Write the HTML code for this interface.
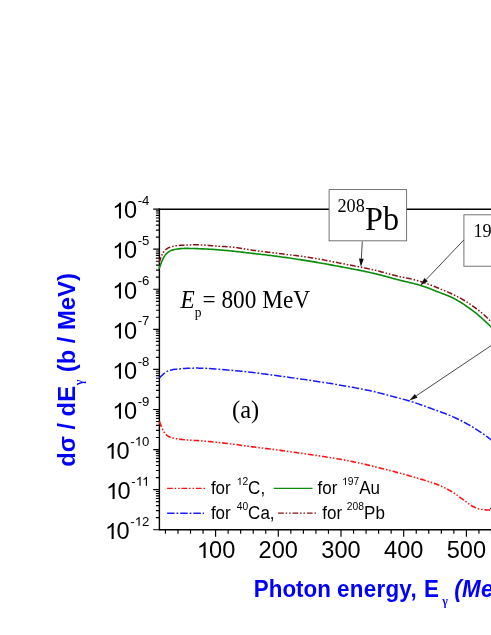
<!DOCTYPE html>
<html><head><meta charset="utf-8"><title>chart</title>
<style>
html,body{margin:0;padding:0;background:#fff;}
body{width:491px;height:635px;overflow:hidden;}
svg{display:block;will-change:transform;}
text{font-family:"Liberation Sans",sans-serif;fill:#000;}
.tk{font-size:23.6px;}
.sup{font-size:13.2px;}
.ttl{font-size:22.4px;font-weight:bold;fill:#0000ff;}
.ttly{font-size:23.8px;font-weight:bold;fill:#0000ff;}
.tsub{font-size:12px;font-family:"Liberation Serif",serif;}
.an{font-family:"Liberation Serif",serif;font-size:23.3px;}
.an2{font-family:"Liberation Serif",serif;font-size:24.5px;}
.ansub{font-size:13.5px;}
.bx{font-family:"Liberation Serif",serif;font-size:32.2px;}
.bxsup{font-size:18.2px;}
.lg{font-size:17px;}
.lgsup{font-size:10.3px;}
</style></head><body>
<svg width="491" height="635" viewBox="0 0 491 635">
<rect width="491" height="635" fill="#fff"/>
<path d="M159.4,208.5 V529.7 H495" fill="none" stroke="#000" stroke-width="1.4"/>
<path d="M158.70000000000002,209.2 H495" fill="none" stroke="#000" stroke-width="1.4"/>
<path d="M153.20000000000002,209.10 H159.4 M155.9,237.11 H159.4 M155.9,230.05 H159.4 M155.9,225.05 H159.4 M155.9,221.16 H159.4 M155.9,217.99 H159.4 M155.9,215.31 H159.4 M155.9,212.98 H159.4 M155.9,210.93 H159.4 M153.20000000000002,249.18 H159.4 M155.9,277.19 H159.4 M155.9,270.13 H159.4 M155.9,265.12 H159.4 M155.9,261.24 H159.4 M155.9,258.07 H159.4 M155.9,255.38 H159.4 M155.9,253.06 H159.4 M155.9,251.01 H159.4 M153.20000000000002,289.25 H159.4 M155.9,317.26 H159.4 M155.9,310.20 H159.4 M155.9,305.20 H159.4 M155.9,301.31 H159.4 M155.9,298.14 H159.4 M155.9,295.46 H159.4 M155.9,293.13 H159.4 M155.9,291.08 H159.4 M153.20000000000002,329.32 H159.4 M155.9,357.34 H159.4 M155.9,350.28 H159.4 M155.9,345.27 H159.4 M155.9,341.39 H159.4 M155.9,338.22 H159.4 M155.9,335.53 H159.4 M155.9,333.21 H159.4 M155.9,331.16 H159.4 M153.20000000000002,369.40 H159.4 M155.9,397.41 H159.4 M155.9,390.35 H159.4 M155.9,385.35 H159.4 M155.9,381.46 H159.4 M155.9,378.29 H159.4 M155.9,375.61 H159.4 M155.9,373.28 H159.4 M155.9,371.23 H159.4 M153.20000000000002,409.48 H159.4 M155.9,437.49 H159.4 M155.9,430.43 H159.4 M155.9,425.42 H159.4 M155.9,421.54 H159.4 M155.9,418.37 H159.4 M155.9,415.68 H159.4 M155.9,413.36 H159.4 M155.9,411.31 H159.4 M153.20000000000002,449.55 H159.4 M155.9,477.56 H159.4 M155.9,470.50 H159.4 M155.9,465.50 H159.4 M155.9,461.61 H159.4 M155.9,458.44 H159.4 M155.9,455.76 H159.4 M155.9,453.43 H159.4 M155.9,451.38 H159.4 M153.20000000000002,489.62 H159.4 M155.9,517.64 H159.4 M155.9,510.58 H159.4 M155.9,505.57 H159.4 M155.9,501.69 H159.4 M155.9,498.52 H159.4 M155.9,495.83 H159.4 M155.9,493.51 H159.4 M155.9,491.46 H159.4 M153.20000000000002,529.70 H159.4" fill="none" stroke="#000" stroke-width="1.15"/>
<path d="M165.44,529.7 v4 M177.98,529.7 v4 M190.52,529.7 v4 M203.06,529.7 v4 M215.60,529.7 v7 M228.14,529.7 v4 M240.68,529.7 v4 M253.22,529.7 v4 M265.76,529.7 v4 M278.30,529.7 v7 M290.84,529.7 v4 M303.38,529.7 v4 M315.92,529.7 v4 M328.46,529.7 v4 M341.00,529.7 v7 M353.54,529.7 v4 M366.08,529.7 v4 M378.62,529.7 v4 M391.16,529.7 v4 M403.70,529.7 v7 M416.24,529.7 v4 M428.78,529.7 v4 M441.32,529.7 v4 M453.86,529.7 v4 M466.40,529.7 v7 M478.94,529.7 v4 M491.48,529.7 v4" fill="none" stroke="#000" stroke-width="1.15"/>
<path d="M159.10,268.80 L160.63,264.45 L162.17,260.57 L163.70,257.54 L165.24,255.10 L166.77,253.27 L168.30,252.10 L169.84,251.14 L171.37,250.40 L172.90,249.89 L174.44,249.58 L175.97,249.30 L177.51,249.05 L179.04,248.84 L180.57,248.66 L182.11,248.53 L183.64,248.44 L185.17,248.40 L186.71,248.40 L188.24,248.42 L189.78,248.44 L191.31,248.47 L192.84,248.51 L194.38,248.55 L195.91,248.60 L197.44,248.65 L198.98,248.71 L200.51,248.77 L202.05,248.84 L203.58,248.90 L205.11,248.97 L206.65,249.03 L208.18,249.11 L209.72,249.19 L211.25,249.29 L212.78,249.39 L214.32,249.50 L215.85,249.61 L217.38,249.74 L218.92,249.86 L220.45,249.99 L221.99,250.12 L223.52,250.26 L225.05,250.39 L226.59,250.53 L228.12,250.66 L229.65,250.81 L231.19,250.96 L232.72,251.12 L234.26,251.29 L235.79,251.45 L237.32,251.63 L238.86,251.80 L240.39,251.98 L241.92,252.16 L243.46,252.34 L244.99,252.52 L246.53,252.70 L248.06,252.88 L249.59,253.05 L251.13,253.23 L252.66,253.41 L254.19,253.58 L255.73,253.76 L257.26,253.93 L258.80,254.11 L260.33,254.29 L261.86,254.47 L263.40,254.65 L264.93,254.83 L266.47,255.01 L268.00,255.20 L269.53,255.39 L271.07,255.57 L272.60,255.77 L274.13,255.96 L275.67,256.15 L277.20,256.35 L278.74,256.55 L280.27,256.76 L281.80,256.96 L283.34,257.17 L284.87,257.38 L286.40,257.60 L287.94,257.82 L289.47,258.04 L291.01,258.26 L292.54,258.49 L294.07,258.72 L295.61,258.95 L297.14,259.18 L298.67,259.42 L300.21,259.66 L301.74,259.90 L303.28,260.14 L304.81,260.38 L306.34,260.63 L307.88,260.87 L309.41,261.12 L310.95,261.37 L312.48,261.63 L314.01,261.88 L315.55,262.14 L317.08,262.40 L318.61,262.67 L320.15,262.94 L321.68,263.21 L323.22,263.48 L324.75,263.76 L326.28,264.03 L327.82,264.31 L329.35,264.59 L330.88,264.87 L332.42,265.16 L333.95,265.44 L335.49,265.73 L337.02,266.02 L338.55,266.31 L340.09,266.59 L341.62,266.89 L343.15,267.18 L344.69,267.46 L346.22,267.75 L347.76,268.04 L349.29,268.33 L350.82,268.62 L352.36,268.92 L353.89,269.21 L355.43,269.51 L356.96,269.81 L358.49,270.11 L360.03,270.41 L361.56,270.72 L363.09,271.04 L364.63,271.35 L366.16,271.68 L367.70,272.00 L369.23,272.34 L370.76,272.68 L372.30,273.02 L373.83,273.38 L375.36,273.74 L376.90,274.12 L378.43,274.51 L379.97,274.90 L381.50,275.30 L383.03,275.71 L384.57,276.12 L386.10,276.54 L387.63,276.95 L389.17,277.37 L390.70,277.79 L392.24,278.21 L393.77,278.62 L395.30,279.03 L396.84,279.44 L398.37,279.84 L399.91,280.23 L401.44,280.61 L402.97,280.99 L404.51,281.35 L406.04,281.72 L407.57,282.08 L409.11,282.44 L410.64,282.81 L412.18,283.18 L413.71,283.56 L415.24,283.95 L416.78,284.35 L418.31,284.77 L419.84,285.21 L421.38,285.66 L422.91,286.15 L424.45,286.66 L425.98,287.20 L427.51,287.76 L429.05,288.34 L430.58,288.94 L432.11,289.55 L433.65,290.16 L435.18,290.78 L436.72,291.40 L438.25,292.01 L439.78,292.62 L441.32,293.21 L442.85,293.78 L444.38,294.35 L445.92,294.93 L447.45,295.53 L448.99,296.15 L450.52,296.81 L452.05,297.53 L453.59,298.29 L455.12,299.09 L456.66,299.94 L458.19,300.83 L459.72,301.75 L461.26,302.70 L462.79,303.69 L464.32,304.70 L465.86,305.75 L467.39,306.81 L468.93,307.90 L470.46,309.00 L471.99,310.13 L473.53,311.27 L475.06,312.46 L476.59,313.69 L478.13,314.96 L479.66,316.27 L481.20,317.61 L482.73,318.98 L484.26,320.38 L485.80,321.81 L487.33,323.26 L488.86,324.73 L490.40,326.21 L491.93,327.73 L493.47,329.35 L495.00,331.00" fill="none" stroke="#0a8c0a" stroke-width="1.6"/>
<path d="M159.10,262.70 L160.63,258.25 L162.17,254.29 L163.70,251.74 L165.24,250.06 L166.77,248.75 L168.30,247.81 L169.84,247.22 L171.37,246.77 L172.90,246.37 L174.44,246.04 L175.97,245.78 L177.51,245.57 L179.04,245.43 L180.57,245.32 L182.11,245.23 L183.64,245.15 L185.17,245.07 L186.71,245.00 L188.24,244.94 L189.78,244.89 L191.31,244.85 L192.84,244.82 L194.38,244.80 L195.91,244.80 L197.44,244.82 L198.98,244.85 L200.51,244.91 L202.05,244.98 L203.58,245.07 L205.11,245.17 L206.65,245.28 L208.18,245.40 L209.72,245.52 L211.25,245.64 L212.78,245.76 L214.32,245.87 L215.85,245.98 L217.38,246.09 L218.92,246.19 L220.45,246.29 L221.99,246.39 L223.52,246.50 L225.05,246.60 L226.59,246.72 L228.12,246.83 L229.65,246.96 L231.19,247.08 L232.72,247.22 L234.26,247.37 L235.79,247.52 L237.32,247.70 L238.86,247.90 L240.39,248.14 L241.92,248.40 L243.46,248.68 L244.99,248.96 L246.53,249.23 L248.06,249.50 L249.59,249.74 L251.13,249.96 L252.66,250.18 L254.19,250.39 L255.73,250.60 L257.26,250.80 L258.80,251.00 L260.33,251.19 L261.86,251.39 L263.40,251.58 L264.93,251.77 L266.47,251.95 L268.00,252.14 L269.53,252.33 L271.07,252.51 L272.60,252.70 L274.13,252.89 L275.67,253.08 L277.20,253.27 L278.74,253.46 L280.27,253.66 L281.80,253.85 L283.34,254.05 L284.87,254.24 L286.40,254.43 L287.94,254.62 L289.47,254.81 L291.01,255.00 L292.54,255.19 L294.07,255.38 L295.61,255.57 L297.14,255.76 L298.67,255.96 L300.21,256.16 L301.74,256.36 L303.28,256.57 L304.81,256.78 L306.34,256.99 L307.88,257.22 L309.41,257.44 L310.95,257.68 L312.48,257.92 L314.01,258.17 L315.55,258.43 L317.08,258.70 L318.61,258.97 L320.15,259.25 L321.68,259.54 L323.22,259.83 L324.75,260.13 L326.28,260.43 L327.82,260.73 L329.35,261.03 L330.88,261.34 L332.42,261.65 L333.95,261.96 L335.49,262.27 L337.02,262.57 L338.55,262.88 L340.09,263.18 L341.62,263.48 L343.15,263.78 L344.69,264.08 L346.22,264.37 L347.76,264.67 L349.29,264.96 L350.82,265.25 L352.36,265.55 L353.89,265.84 L355.43,266.14 L356.96,266.44 L358.49,266.74 L360.03,267.04 L361.56,267.35 L363.09,267.66 L364.63,267.97 L366.16,268.29 L367.70,268.62 L369.23,268.94 L370.76,269.28 L372.30,269.62 L373.83,269.97 L375.36,270.34 L376.90,270.72 L378.43,271.10 L379.97,271.50 L381.50,271.90 L383.03,272.31 L384.57,272.72 L386.10,273.13 L387.63,273.54 L389.17,273.95 L390.70,274.36 L392.24,274.77 L393.77,275.17 L395.30,275.56 L396.84,275.94 L398.37,276.32 L399.91,276.68 L401.44,277.02 L402.97,277.35 L404.51,277.66 L406.04,277.96 L407.57,278.26 L409.11,278.57 L410.64,278.89 L412.18,279.22 L413.71,279.58 L415.24,279.96 L416.78,280.37 L418.31,280.81 L419.84,281.27 L421.38,281.75 L422.91,282.25 L424.45,282.77 L425.98,283.31 L427.51,283.86 L429.05,284.43 L430.58,285.01 L432.11,285.60 L433.65,286.20 L435.18,286.81 L436.72,287.43 L438.25,288.06 L439.78,288.68 L441.32,289.32 L442.85,289.95 L444.38,290.60 L445.92,291.25 L447.45,291.92 L448.99,292.60 L450.52,293.30 L452.05,294.01 L453.59,294.74 L455.12,295.49 L456.66,296.26 L458.19,297.05 L459.72,297.87 L461.26,298.71 L462.79,299.58 L464.32,300.48 L465.86,301.41 L467.39,302.38 L468.93,303.38 L470.46,304.40 L471.99,305.46 L473.53,306.55 L475.06,307.67 L476.59,308.82 L478.13,310.00 L479.66,311.21 L481.20,312.44 L482.73,313.71 L484.26,315.05 L485.80,316.48 L487.33,317.97 L488.86,319.52 L490.40,321.08 L491.93,322.67 L493.47,324.31 L495.00,326.00" fill="none" stroke="#8b0f14" stroke-width="1.5" stroke-dasharray="5.7 1.9 1.5 1.9 1.5 1.9"/>
<path d="M159.50,377.90 L161.03,376.32 L162.56,374.88 L164.10,373.53 L165.63,372.22 L167.16,371.32 L168.69,370.78 L170.22,370.32 L171.76,369.93 L173.29,369.61 L174.82,369.36 L176.35,369.16 L177.88,369.02 L179.42,368.89 L180.95,368.77 L182.48,368.65 L184.01,368.55 L185.54,368.45 L187.08,368.37 L188.61,368.29 L190.14,368.23 L191.67,368.17 L193.20,368.14 L194.74,368.11 L196.27,368.10 L197.80,368.10 L199.33,368.13 L200.86,368.16 L202.39,368.21 L203.93,368.27 L205.46,368.34 L206.99,368.43 L208.52,368.52 L210.05,368.62 L211.59,368.73 L213.12,368.84 L214.65,368.96 L216.18,369.09 L217.71,369.22 L219.25,369.35 L220.78,369.48 L222.31,369.61 L223.84,369.74 L225.37,369.87 L226.91,369.99 L228.44,370.11 L229.97,370.23 L231.50,370.36 L233.03,370.49 L234.57,370.63 L236.10,370.77 L237.63,370.91 L239.16,371.06 L240.69,371.21 L242.23,371.37 L243.76,371.53 L245.29,371.69 L246.82,371.85 L248.35,372.02 L249.89,372.19 L251.42,372.36 L252.95,372.54 L254.48,372.72 L256.01,372.90 L257.55,373.09 L259.08,373.29 L260.61,373.48 L262.14,373.68 L263.67,373.89 L265.21,374.09 L266.74,374.30 L268.27,374.51 L269.80,374.72 L271.33,374.93 L272.87,375.14 L274.40,375.35 L275.93,375.56 L277.46,375.77 L278.99,375.98 L280.53,376.19 L282.06,376.40 L283.59,376.61 L285.12,376.81 L286.65,377.02 L288.18,377.23 L289.72,377.44 L291.25,377.66 L292.78,377.87 L294.31,378.08 L295.84,378.29 L297.38,378.51 L298.91,378.73 L300.44,378.94 L301.97,379.16 L303.50,379.38 L305.04,379.61 L306.57,379.83 L308.10,380.05 L309.63,380.28 L311.16,380.51 L312.70,380.74 L314.23,380.97 L315.76,381.20 L317.29,381.44 L318.82,381.67 L320.36,381.91 L321.89,382.15 L323.42,382.39 L324.95,382.63 L326.48,382.87 L328.02,383.12 L329.55,383.36 L331.08,383.61 L332.61,383.86 L334.14,384.12 L335.68,384.37 L337.21,384.63 L338.74,384.89 L340.27,385.15 L341.80,385.42 L343.34,385.68 L344.87,385.95 L346.40,386.22 L347.93,386.49 L349.46,386.76 L351.00,387.03 L352.53,387.31 L354.06,387.59 L355.59,387.87 L357.12,388.15 L358.66,388.44 L360.19,388.73 L361.72,389.03 L363.25,389.33 L364.78,389.64 L366.32,389.95 L367.85,390.27 L369.38,390.59 L370.91,390.92 L372.44,391.25 L373.97,391.60 L375.51,391.96 L377.04,392.33 L378.57,392.72 L380.10,393.11 L381.63,393.51 L383.17,393.91 L384.70,394.32 L386.23,394.73 L387.76,395.14 L389.29,395.55 L390.83,395.95 L392.36,396.36 L393.89,396.76 L395.42,397.16 L396.95,397.56 L398.49,397.97 L400.02,398.37 L401.55,398.78 L403.08,399.20 L404.61,399.62 L406.15,400.05 L407.68,400.49 L409.21,400.94 L410.74,401.40 L412.27,401.87 L413.81,402.36 L415.34,402.86 L416.87,403.38 L418.40,403.90 L419.93,404.44 L421.47,404.98 L423.00,405.53 L424.53,406.08 L426.06,406.64 L427.59,407.20 L429.13,407.76 L430.66,408.32 L432.19,408.88 L433.72,409.43 L435.25,409.98 L436.79,410.52 L438.32,411.07 L439.85,411.62 L441.38,412.17 L442.91,412.73 L444.45,413.31 L445.98,413.89 L447.51,414.49 L449.04,415.11 L450.57,415.74 L452.11,416.40 L453.64,417.08 L455.17,417.78 L456.70,418.50 L458.23,419.25 L459.76,420.01 L461.30,420.78 L462.83,421.58 L464.36,422.39 L465.89,423.23 L467.42,424.07 L468.96,424.94 L470.49,425.82 L472.02,426.72 L473.55,427.63 L475.08,428.57 L476.62,429.54 L478.15,430.53 L479.68,431.54 L481.21,432.58 L482.74,433.64 L484.28,434.73 L485.81,435.83 L487.34,436.95 L488.87,438.09 L490.40,439.25 L491.94,440.43 L493.47,441.70 L495.00,443.00" fill="none" stroke="#1818ff" stroke-width="1.5" stroke-dasharray="7.45 1.92 1.8 1.92"/>
<path d="M159.50,421.60 L161.03,425.67 L162.56,429.26 L164.10,432.12 L165.63,434.23 L167.16,435.56 L168.69,436.55 L170.22,437.18 L171.76,437.67 L173.29,438.09 L174.82,438.45 L176.35,438.74 L177.88,438.99 L179.42,439.20 L180.95,439.38 L182.48,439.55 L184.01,439.69 L185.54,439.83 L187.08,439.95 L188.61,440.06 L190.14,440.16 L191.67,440.26 L193.20,440.36 L194.74,440.45 L196.27,440.55 L197.80,440.64 L199.33,440.75 L200.86,440.85 L202.39,440.97 L203.93,441.10 L205.46,441.24 L206.99,441.38 L208.52,441.52 L210.05,441.67 L211.59,441.81 L213.12,441.96 L214.65,442.12 L216.18,442.27 L217.71,442.43 L219.25,442.59 L220.78,442.76 L222.31,442.92 L223.84,443.09 L225.37,443.26 L226.91,443.44 L228.44,443.62 L229.97,443.80 L231.50,443.99 L233.03,444.18 L234.57,444.39 L236.10,444.59 L237.63,444.80 L239.16,445.01 L240.69,445.23 L242.23,445.44 L243.76,445.65 L245.29,445.87 L246.82,446.08 L248.35,446.28 L249.89,446.49 L251.42,446.68 L252.95,446.88 L254.48,447.08 L256.01,447.27 L257.55,447.47 L259.08,447.66 L260.61,447.85 L262.14,448.04 L263.67,448.23 L265.21,448.43 L266.74,448.62 L268.27,448.81 L269.80,449.00 L271.33,449.20 L272.87,449.39 L274.40,449.59 L275.93,449.79 L277.46,449.98 L278.99,450.19 L280.53,450.39 L282.06,450.60 L283.59,450.80 L285.12,451.01 L286.65,451.22 L288.18,451.43 L289.72,451.64 L291.25,451.85 L292.78,452.07 L294.31,452.28 L295.84,452.50 L297.38,452.71 L298.91,452.93 L300.44,453.15 L301.97,453.37 L303.50,453.59 L305.04,453.81 L306.57,454.03 L308.10,454.26 L309.63,454.48 L311.16,454.71 L312.70,454.94 L314.23,455.16 L315.76,455.39 L317.29,455.61 L318.82,455.84 L320.36,456.07 L321.89,456.29 L323.42,456.52 L324.95,456.76 L326.48,456.99 L328.02,457.23 L329.55,457.46 L331.08,457.71 L332.61,457.95 L334.14,458.20 L335.68,458.46 L337.21,458.72 L338.74,458.98 L340.27,459.25 L341.80,459.52 L343.34,459.81 L344.87,460.09 L346.40,460.39 L347.93,460.69 L349.46,460.99 L351.00,461.30 L352.53,461.62 L354.06,461.94 L355.59,462.26 L357.12,462.59 L358.66,462.92 L360.19,463.25 L361.72,463.59 L363.25,463.94 L364.78,464.29 L366.32,464.65 L367.85,465.02 L369.38,465.39 L370.91,465.76 L372.44,466.14 L373.97,466.52 L375.51,466.90 L377.04,467.28 L378.57,467.67 L380.10,468.05 L381.63,468.43 L383.17,468.82 L384.70,469.21 L386.23,469.59 L387.76,469.98 L389.29,470.38 L390.83,470.77 L392.36,471.17 L393.89,471.57 L395.42,471.97 L396.95,472.38 L398.49,472.79 L400.02,473.20 L401.55,473.62 L403.08,474.04 L404.61,474.47 L406.15,474.89 L407.68,475.32 L409.21,475.76 L410.74,476.20 L412.27,476.64 L413.81,477.08 L415.34,477.53 L416.87,477.99 L418.40,478.45 L419.93,478.92 L421.47,479.39 L423.00,479.86 L424.53,480.33 L426.06,480.80 L427.59,481.27 L429.13,481.75 L430.66,482.23 L432.19,482.73 L433.72,483.25 L435.25,483.78 L436.79,484.34 L438.32,484.92 L439.85,485.54 L441.38,486.19 L442.91,486.90 L444.45,487.64 L445.98,488.43 L447.51,489.26 L449.04,490.11 L450.57,491.00 L452.11,491.90 L453.64,492.86 L455.17,493.89 L456.70,494.96 L458.23,496.07 L459.76,497.18 L461.30,498.29 L462.83,499.38 L464.36,500.51 L465.89,501.68 L467.42,502.85 L468.96,503.97 L470.49,505.02 L472.02,505.94 L473.55,506.75 L475.08,507.50 L476.62,508.17 L478.15,508.68 L479.68,509.04 L481.21,509.33 L482.74,509.56 L484.28,509.72 L485.81,509.86 L487.34,509.96 L488.87,510.00 L490.40,510.00 L491.94,510.00 L493.47,510.00 L495.00,510.00" fill="none" stroke="#ff1010" stroke-width="1.6" stroke-dasharray="5.7 1.9 1.5 1.9 1.5 1.9"/>
<text transform="translate(123.94,218.40) scale(1.0,0.98)" class="tk">0</text>
<text transform="translate(137.66,205.20) scale(1,0.98)" class="tk" style="font-size:13.2px">-</text>
<text transform="translate(142.06,205.20) scale(1,0.98)" class="tk" style="font-size:13.2px">4</text>
<path transform="translate(112.22,218.40) scale(0.01152,-0.01083)" d="M763 0H583V1147Q518 1085 412.5 1023T223 930V1104Q374 1175 487 1276T647 1472H763Z" fill="#000"/>
<text transform="translate(123.94,258.48) scale(1.0,0.98)" class="tk">0</text>
<text transform="translate(137.66,245.28) scale(1,0.98)" class="tk" style="font-size:13.2px">-</text>
<text transform="translate(142.06,245.28) scale(1,0.98)" class="tk" style="font-size:13.2px">5</text>
<path transform="translate(112.22,258.48) scale(0.01152,-0.01083)" d="M763 0H583V1147Q518 1085 412.5 1023T223 930V1104Q374 1175 487 1276T647 1472H763Z" fill="#000"/>
<text transform="translate(123.94,298.55) scale(1.0,0.98)" class="tk">0</text>
<text transform="translate(137.66,285.35) scale(1,0.98)" class="tk" style="font-size:13.2px">-</text>
<text transform="translate(142.06,285.35) scale(1,0.98)" class="tk" style="font-size:13.2px">6</text>
<path transform="translate(112.22,298.55) scale(0.01152,-0.01083)" d="M763 0H583V1147Q518 1085 412.5 1023T223 930V1104Q374 1175 487 1276T647 1472H763Z" fill="#000"/>
<text transform="translate(123.94,338.62) scale(1.0,0.98)" class="tk">0</text>
<text transform="translate(137.66,325.43) scale(1,0.98)" class="tk" style="font-size:13.2px">-</text>
<text transform="translate(142.06,325.43) scale(1,0.98)" class="tk" style="font-size:13.2px">7</text>
<path transform="translate(112.22,338.62) scale(0.01152,-0.01083)" d="M763 0H583V1147Q518 1085 412.5 1023T223 930V1104Q374 1175 487 1276T647 1472H763Z" fill="#000"/>
<text transform="translate(123.94,378.70) scale(1.0,0.98)" class="tk">0</text>
<text transform="translate(137.66,365.50) scale(1,0.98)" class="tk" style="font-size:13.2px">-</text>
<text transform="translate(142.06,365.50) scale(1,0.98)" class="tk" style="font-size:13.2px">8</text>
<path transform="translate(112.22,378.70) scale(0.01152,-0.01083)" d="M763 0H583V1147Q518 1085 412.5 1023T223 930V1104Q374 1175 487 1276T647 1472H763Z" fill="#000"/>
<text transform="translate(123.94,418.78) scale(1.0,0.98)" class="tk">0</text>
<text transform="translate(137.66,405.58) scale(1,0.98)" class="tk" style="font-size:13.2px">-</text>
<text transform="translate(142.06,405.58) scale(1,0.98)" class="tk" style="font-size:13.2px">9</text>
<path transform="translate(112.22,418.78) scale(0.01152,-0.01083)" d="M763 0H583V1147Q518 1085 412.5 1023T223 930V1104Q374 1175 487 1276T647 1472H763Z" fill="#000"/>
<text transform="translate(116.60,458.85) scale(1.0,0.98)" class="tk">0</text>
<text transform="translate(130.32,445.65) scale(1,0.98)" class="tk" style="font-size:13.2px">-</text>
<path transform="translate(134.72,445.65) scale(0.00645,-0.00606)" d="M763 0H583V1147Q518 1085 412.5 1023T223 930V1104Q374 1175 487 1276T647 1472H763Z" fill="#000"/>
<text transform="translate(142.06,445.65) scale(1,0.98)" class="tk" style="font-size:13.2px">0</text>
<path transform="translate(104.88,458.85) scale(0.01152,-0.01083)" d="M763 0H583V1147Q518 1085 412.5 1023T223 930V1104Q374 1175 487 1276T647 1472H763Z" fill="#000"/>
<text transform="translate(117.57,498.93) scale(1.0,0.98)" class="tk">0</text>
<text transform="translate(131.29,485.73) scale(1,0.98)" class="tk" style="font-size:13.2px">-</text>
<path transform="translate(135.69,485.73) scale(0.00645,-0.00606)" d="M763 0H583V1147Q518 1085 412.5 1023T223 930V1104Q374 1175 487 1276T647 1472H763Z" fill="#000"/>
<path transform="translate(142.06,485.73) scale(0.00645,-0.00606)" d="M763 0H583V1147Q518 1085 412.5 1023T223 930V1104Q374 1175 487 1276T647 1472H763Z" fill="#000"/>
<path transform="translate(105.84,498.93) scale(0.01152,-0.01083)" d="M763 0H583V1147Q518 1085 412.5 1023T223 930V1104Q374 1175 487 1276T647 1472H763Z" fill="#000"/>
<text transform="translate(116.60,539.00) scale(1.0,0.98)" class="tk">0</text>
<text transform="translate(130.32,525.80) scale(1,0.98)" class="tk" style="font-size:13.2px">-</text>
<path transform="translate(134.72,525.80) scale(0.00645,-0.00606)" d="M763 0H583V1147Q518 1085 412.5 1023T223 930V1104Q374 1175 487 1276T647 1472H763Z" fill="#000"/>
<text transform="translate(142.06,525.80) scale(1,0.98)" class="tk" style="font-size:13.2px">2</text>
<path transform="translate(104.88,539.00) scale(0.01152,-0.01083)" d="M763 0H583V1147Q518 1085 412.5 1023T223 930V1104Q374 1175 487 1276T647 1472H763Z" fill="#000"/>
<path transform="translate(196.81,558.10) scale(0.01152,-0.01083)" d="M763 0H583V1147Q518 1085 412.5 1023T223 930V1104Q374 1175 487 1276T647 1472H763Z" fill="#000"/>
<text transform="translate(209.04,558.10) scale(1.0,0.98)" class="tk">00</text>
<text transform="translate(278.30,558.10) scale(1.0,0.98)" class="tk" text-anchor="middle">200</text>
<text transform="translate(341.00,558.10) scale(1.0,0.98)" class="tk" text-anchor="middle">300</text>
<text transform="translate(403.70,558.10) scale(1.0,0.98)" class="tk" text-anchor="middle">400</text>
<text transform="translate(466.40,558.10) scale(1.0,0.98)" class="tk" text-anchor="middle">500</text>
<text transform="translate(253.80,596.80) scale(1.0,1.085)" class="ttl">Photon <tspan letter-spacing="0.25">energy,</tspan><tspan dx="1.0"> E</tspan><tspan class="tsub" dx="3.2" dy="8">γ</tspan><tspan dy="-8" font-style="italic" letter-spacing="0.3"> (MeV)</tspan></text>
<text transform="translate(74.70,466.80) rotate(-90) scale(1.0,1.03)" class="ttly">dσ<tspan dx="-0.2"> / dE</tspan><tspan class="tsub" dx="0.7" dy="8.4">γ</tspan><tspan dx="0.8" dy="-8.4"> (b / MeV)</tspan></text>
<text transform="translate(180.50,307.50) scale(1.0,1.055)" class="an"><tspan font-style="italic">E</tspan><tspan class="ansub" dy="8.53">p</tspan><tspan dx="1" dy="-8.53">= 800 MeV</tspan></text>
<text transform="translate(232.00,417.60) scale(1.0,1.0)" class="an2">(a)</text>
<rect x="329.1" y="189.6" width="77.5" height="51.2" fill="#fff" stroke="#666" stroke-width="0.9"/>
<text transform="translate(337.50,229.70) scale(1.0,1.02)" class="bx"><tspan class="bxsup" dy="-17.45">208</tspan><tspan dx="0.3" dy="17.45">Pb</tspan></text>
<rect x="463.9" y="214.8" width="60" height="51.4" fill="#fff" stroke="#666" stroke-width="0.9"/>
<text transform="translate(473.50,255.00) scale(1.0,1.02)" class="bx"><tspan class="bxsup" dy="-17.45">197</tspan><tspan dx="0.3" dy="17.45">Au</tspan></text>
<path d="M362.30,241.40 L361.35,258.71" stroke="#333" stroke-width="0.9" fill="none"/><path d="M360.90,267.00 L358.96,258.58 L363.75,258.84Z" fill="#111"/>
<path d="M463.90,239.90 L426.12,279.59" stroke="#333" stroke-width="0.9" fill="none"/><path d="M420.40,285.60 L424.38,277.93 L427.86,281.24Z" fill="#111"/>
<path d="M495.00,343.00 L416.19,395.88" stroke="#333" stroke-width="0.9" fill="none"/><path d="M409.30,400.50 L414.86,393.88 L417.53,397.87Z" fill="#111"/>
<path d="M500.00,501.50 L495.92,504.59" stroke="#333" stroke-width="0.9" fill="none"/><path d="M489.30,509.60 L494.47,502.68 L497.37,506.50Z" fill="#111"/>
<path d="M167.1,488.4 H206.7" stroke="#ff1010" stroke-width="1.2" stroke-dasharray="5.7 1.9 1.5 1.9 1.5 1.9" fill="none"/>
<path d="M167.1,513.2 H204" stroke="#2020ff" stroke-width="1.5" stroke-dasharray="7.5 1.9 1.8 1.9" fill="none"/>
<text transform="translate(210.90,494.00) scale(1.0,1.07)" class="lg">for</text>
<path transform="translate(236.67,485.00) scale(0.00503,-0.00517)" d="M763 0H583V1147Q518 1085 412.5 1023T223 930V1104Q374 1175 487 1276T647 1472H763Z" fill="#000"/>
<text transform="translate(242.39,485.00) scale(1,1.07)" class="lg" style="font-size:10.3px">2</text>
<text transform="translate(248.12,494.00) scale(1.0,1.07)" class="lg">C,</text>
<text transform="translate(210.90,518.50) scale(1.0,1.07)" class="lg">for</text>
<text transform="translate(236.67,509.50) scale(1,1.07)" class="lg" style="font-size:10.3px">4</text>
<text transform="translate(242.39,509.50) scale(1,1.07)" class="lg" style="font-size:10.3px">0</text>
<text transform="translate(248.12,518.50) scale(1.0,1.07)" class="lg">Ca,</text>
<path d="M273.8,488.4 H312.5" stroke="#0a8c0a" stroke-width="1.3" fill="none"/>
<path d="M278.1,513.2 H317" stroke="#8b0f14" stroke-width="1.2" stroke-dasharray="5.7 1.9 1.5 1.9 1.5 1.9" fill="none"/>
<text transform="translate(317.50,494.00) scale(1.0,1.07)" class="lg">for</text>
<path transform="translate(342.07,485.00) scale(0.00503,-0.00517)" d="M763 0H583V1147Q518 1085 412.5 1023T223 930V1104Q374 1175 487 1276T647 1472H763Z" fill="#000"/>
<text transform="translate(347.79,485.00) scale(1,1.07)" class="lg" style="font-size:10.3px">9</text>
<text transform="translate(353.52,485.00) scale(1,1.07)" class="lg" style="font-size:10.3px">7</text>
<text transform="translate(359.25,494.00) scale(1.0,1.07)" class="lg">Au</text>
<text transform="translate(322.30,518.50) scale(1.0,1.07)" class="lg">for</text>
<text transform="translate(346.87,509.50) scale(1,1.07)" class="lg" style="font-size:10.3px">2</text>
<text transform="translate(352.59,509.50) scale(1,1.07)" class="lg" style="font-size:10.3px">0</text>
<text transform="translate(358.32,509.50) scale(1,1.07)" class="lg" style="font-size:10.3px">8</text>
<text transform="translate(364.05,518.50) scale(1.0,1.07)" class="lg">Pb</text>
</svg>
</body></html>
